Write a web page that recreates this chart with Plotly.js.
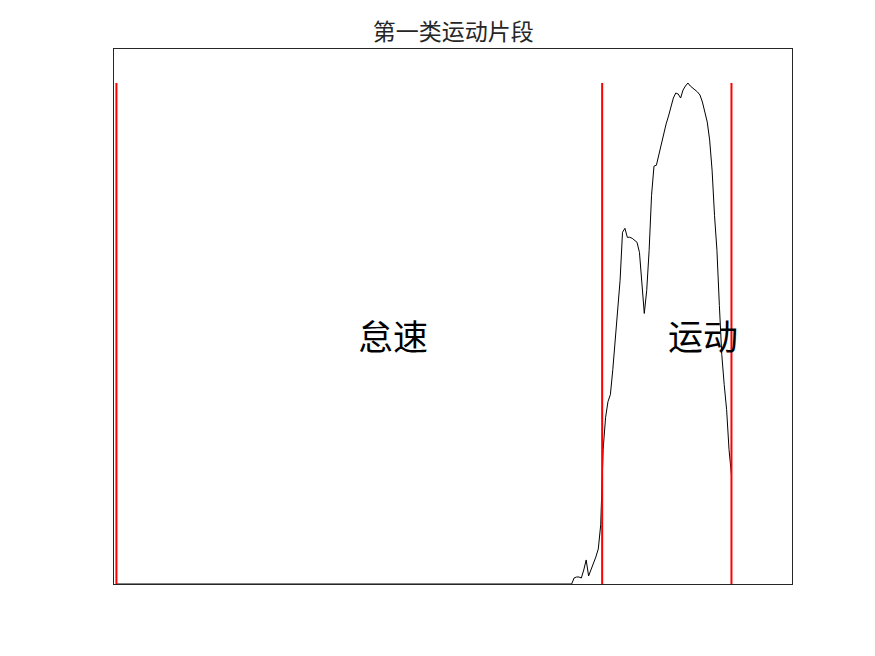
<!DOCTYPE html>
<html>
<head>
<meta charset="utf-8">
<script src="https://cdn.plot.ly/plotly-3.0.1.min.js"></script>
<style>html,body{margin:0;padding:0;background:#fff;}#chart{width:875px;height:656px;}</style>
</head>
<body>
<div id="chart"></div>
<script>
// time (s) and speed (km/h) for the segment
const idleZeros = 189; // seconds 1..189 at zero speed
const speedTail = [0.6, 0.7, 0.7, 0.6, 1.4, 2.4, 0.8, 1.4, 1.9, 2.7, 3.5, 5.9, 13.4, 16.6, 18.2, 18.9, 21.4, 24.4, 26.5, 30.3, 35.1, 35.5, 34.6, 34.6, 34.5, 34.3, 34.1, 33.1, 29.8, 27.0, 29.3, 33.3, 38.8, 41.7, 41.8, 42.8, 44.1, 45.0, 45.9, 46.7, 47.6, 48.5, 49.0, 48.9, 48.5, 49.3, 49.7, 50.0, 49.7, 49.5, 49.3, 49.1, 48.8, 48.1, 47.1, 46.1, 44.3, 41.3, 36.8, 33.3, 27.8, 22.9, 19.9, 17.4, 13.4, 10.9];
const speed = new Array(idleZeros).fill(0).concat(speedTail);
const time = speed.map((_, i) => i + 1);
const boundaries = [1, 201.6, 255];
const labelText = ['怠速', '运动'];
const labelX = [115.3, 243.3];
const labelY = [24.9, 24.9];
const titleText = '第一类运动片段';

const vmax = Math.max(...speed);
const traces = [{
  x: time, y: speed, type: 'scatter', mode: 'lines',
  line: {color: '#000000', width: 1}, hoverinfo: 'skip', showlegend: false
}];
boundaries.forEach(b => traces.push({
  x: [b, b], y: [0, vmax], type: 'scatter', mode: 'lines',
  line: {color: '#ff0000', width: 2}, showlegend: false, hoverinfo: 'skip'
}));

const annotations = labelText.map((t, i) => ({
  x: labelX[i], y: labelY[i], xref: 'x', yref: 'y', text: t, showarrow: false,
  font: {family: 'Noto Sans CJK SC', size: 35, color: '#000'}
}));

const axisCommon = {showgrid: false, zeroline: false, showticklabels: false, ticks: '',
  showline: true, mirror: true, linecolor: '#262626', linewidth: 1};

Plotly.newPlot('chart', traces, {
  width: 875, height: 656,
  margin: {l: 114, r: 83, t: 49, b: 72},
  paper_bgcolor: '#fff', plot_bgcolor: '#fff',
  title: {text: titleText, x: 0.518, xanchor: 'center', y: 0.951, yanchor: 'middle',
    font: {family: 'Noto Sans CJK SC', size: 23, color: '#262626'}},
  xaxis: Object.assign({range: [0, 280]}, axisCommon),
  yaxis: Object.assign({range: [0, vmax * 535 / 501]}, axisCommon),
  annotations: annotations,
  showlegend: false
}, {staticPlot: true});
</script>
</body>
</html>
